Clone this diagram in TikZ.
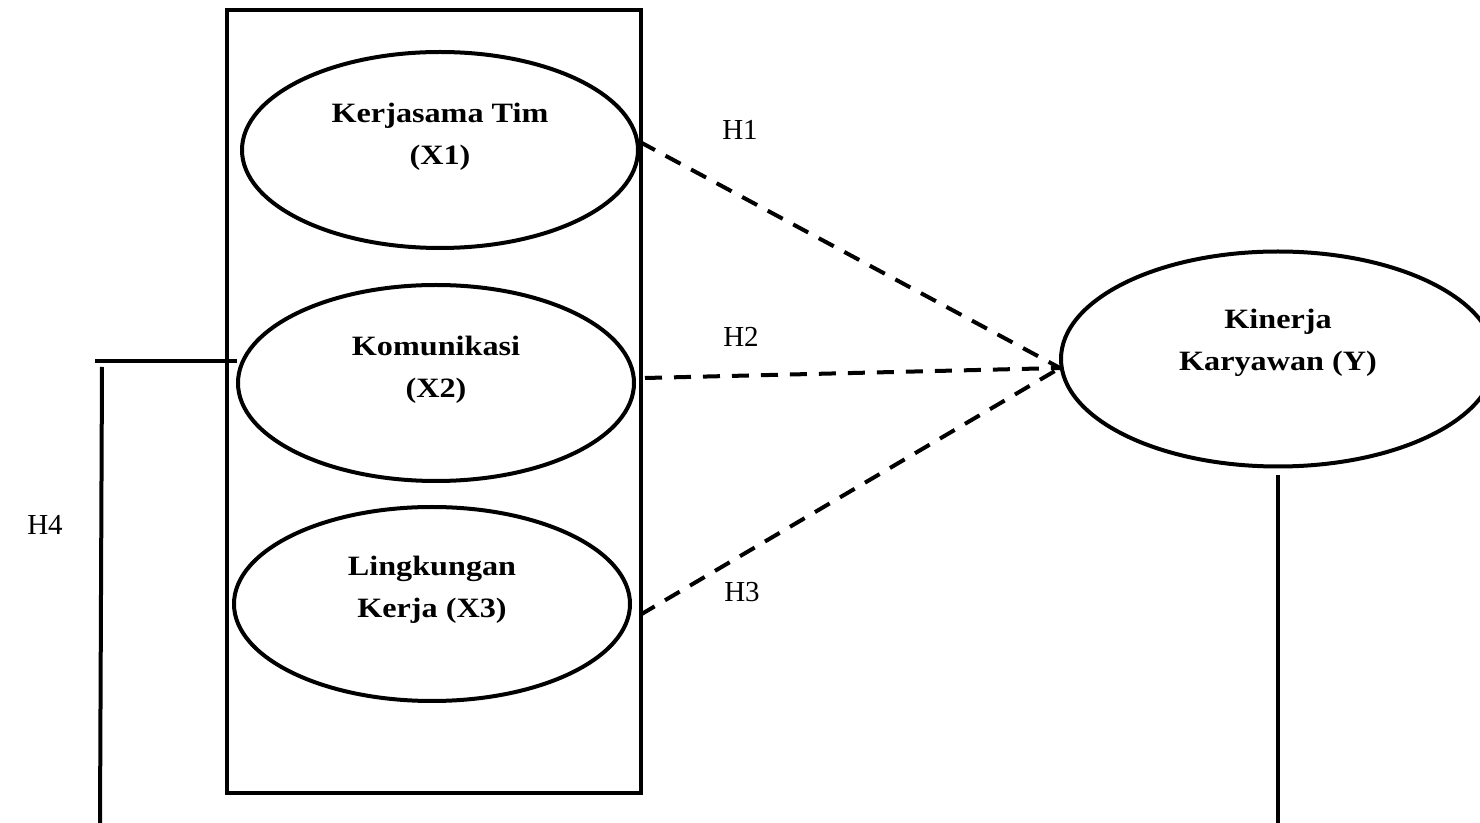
\documentclass[tikz,border=0pt]{standalone}
\usepackage{fontspec}
\setmainfont{Liberation Serif}
\newfontfamily\ellfont[FakeStretch=1.15]{Liberation Serif}
\usetikzlibrary{shapes.geometric,calc}
\begin{document}
\begin{tikzpicture}[x=0.5pt,y=-0.5pt,
  ellbox/.style={draw, ellipse, line width=2pt, inner sep=0pt, minimum width=198pt, minimum height=98pt},
  ltext/.style={align=center, font=\ellfont\bfseries\fontsize{14}{21}\selectfont, inner sep=0pt},
  hlabel/.style={font=\fontsize{14.5}{17}\selectfont, inner sep=0pt},
  grpbox/.style={draw, line width=2pt, inner sep=0pt, minimum width=207pt, minimum height=391.5pt},
  hyp/.style={line width=2pt, dash pattern=on 8.5pt off 6pt},
  solidline/.style={line width=2pt}]
\useasboundingbox (0,0) rectangle (1480,823);
\clip (0,0) rectangle (1480,823);

% group rectangle
\node[grpbox] (grp) at (434,401.5) {};

% ellipses
\node[ellbox] (x1) at (440,150) {};
\node[ellbox] (x2) at (436,383) {};
\node[ellbox, minimum height=97pt] (x3) at (432,604) {};
\node[ellbox, minimum width=217pt, minimum height=107.5pt] (y) at (1278,359) {};

% texts
\node[ltext] (t1) at (440,137) {Kerjasama Tim\\(X1)};
\node[ltext] (t2) at (436,370) {Komunikasi\\(X2)};
\node[ltext] (t3) at (432,590) {Lingkungan\\Kerja (X3)};
\node[ltext] (ty) at (1278,343) {Kinerja\\Karyawan (Y)};

% hypothesis labels
\node[hlabel] (h1) at (740,130) {H1};
\node[hlabel] (h2) at (741,337) {H2};
\node[hlabel] (h3) at (742,592) {H3};
\node[hlabel] (h4) at (45,525) {H4};

% dashed connectors
\coordinate (conv) at ($(y.west)+(1,9)$);
\coordinate (s1) at (640,142);
\coordinate (s2) at (645,378);
\coordinate (s3) at (640,615);
\draw[hyp] (s1) -- (conv);
\draw[hyp] (s2) -- (conv);
\draw[hyp] (s3) -- (conv);

% H4 bracket lines
\coordinate (h4l) at (95,361);
\coordinate (h4r) at (237,361);
\coordinate (h4t) at (102,367);
\coordinate (h4b) at (100,823);
\draw[solidline] (h4l) -- (h4r);
\draw[solidline] (h4t) -- (h4b);

% line below Y
\coordinate (yt) at ($(y.south)+(0,7)$);
\coordinate (yb) at (1278,823);
\draw[solidline] (yt) -- (yb);
\end{tikzpicture}
\end{document}
